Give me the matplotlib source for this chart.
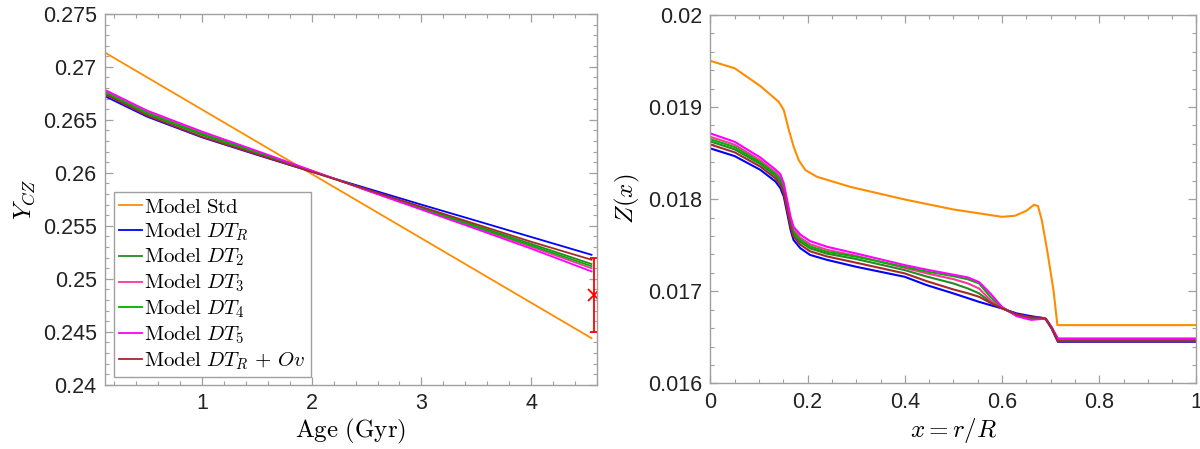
import numpy as np
import matplotlib
matplotlib.use("Agg")
import matplotlib.pyplot as plt
from matplotlib.ticker import MultipleLocator

plt.rcParams['font.family'] = ['Liberation Sans', 'DejaVu Sans']
plt.rcParams['mathtext.fontset'] = 'cm'

# ---- left panel: helium in the convective zone vs age ----
age = [0.116, 0.5, 1.0, 1.5, 2.0, 2.5, 3.0, 3.5, 4.0, 4.55]
age_std = [0.116, 4.55]
y_std = [0.27135, 0.24440]
y_dtr = [0.26723, 0.26530, 0.26335, 0.26170, 0.26010, 0.25855, 0.25700, 0.25548, 0.25395, 0.25227]
y_dt2 = [0.26750, 0.26555, 0.26358, 0.26188, 0.26015, 0.25842, 0.25670, 0.25500, 0.25330, 0.25140]
y_dt3 = [0.26770, 0.26575, 0.26378, 0.26200, 0.26020, 0.25838, 0.25660, 0.25482, 0.25303, 0.25100]
y_dt4 = [0.26760, 0.26565, 0.26368, 0.26195, 0.26018, 0.25840, 0.25665, 0.25490, 0.25315, 0.25120]
y_dt5 = [0.26783, 0.26588, 0.26390, 0.26208, 0.26022, 0.25835, 0.25653, 0.25470, 0.25285, 0.25070]
y_ov = [0.26740, 0.26540, 0.26340, 0.26175, 0.26010, 0.25845, 0.25680, 0.25515, 0.25350, 0.25180]

sun_age = 4.57
sun_y = 0.2485
sun_err = 0.0035

# ---- right panel: metallicity profile ----
x_std = [0.0, 0.05, 0.103, 0.1406, 0.151, 0.1615, 0.1714, 0.1817, 0.1955, 0.2195, 0.288,
         0.4, 0.5, 0.6, 0.627, 0.65, 0.666, 0.674, 0.682, 0.694, 0.706, 0.714, 1.0]
z_std = [0.01950, 0.019420, 0.019226, 0.019056, 0.018966, 0.018749, 0.018568, 0.018423,
         0.018315, 0.018242, 0.018133, 0.017996, 0.017888, 0.017808, 0.01782, 0.017873,
         0.017939, 0.017925, 0.01777, 0.01741, 0.01701, 0.016633, 0.016633]

xr = [0.0, 0.05, 0.103, 0.134, 0.144, 0.151, 0.158, 0.165, 0.171, 0.185, 0.205, 0.24, 0.3,
      0.4, 0.445, 0.5, 0.53, 0.553, 0.576, 0.6, 0.63, 0.66, 0.682, 0.69, 0.702, 0.715, 1.0]
z_dtr = [0.01855, 0.018467, 0.018317, 0.018191, 0.018119, 0.018028, 0.017847, 0.017666,
         0.017558, 0.017468, 0.017395, 0.017341, 0.017266, 0.017157, 0.017067, 0.016977,
         0.016925, 0.016885, 0.01685, 0.016814, 0.01676, 0.01673, 0.016712, 0.016694,
         0.016597, 0.016452, 0.016452]
z_dt2 = [0.018626, 0.018540, 0.018380, 0.018252, 0.018190, 0.018095, 0.017914, 0.017733,
         0.017625, 0.017537, 0.017466, 0.017408, 0.017350, 0.017230, 0.017160, 0.017085,
         0.017030, 0.016977, 0.016886, 0.016818, 0.016745, 0.016712, 0.016710, 0.016702,
         0.016605, 0.016465, 0.016465]
z_dt3 = [0.018676, 0.018590, 0.018420, 0.018290, 0.018235, 0.018138, 0.017957, 0.017775,
         0.017667, 0.017581, 0.017511, 0.017450, 0.017385, 0.017254, 0.017195, 0.017132,
         0.017085, 0.017030, 0.016904, 0.016820, 0.016740, 0.016705, 0.016705, 0.016700,
         0.016610, 0.016480, 0.016480]
z_dt4 = [0.018650, 0.018565, 0.018399, 0.018270, 0.018211, 0.018115, 0.017934, 0.017753,
         0.017645, 0.017558, 0.017487, 0.017428, 0.017375, 0.017265, 0.017215, 0.017164,
         0.017130, 0.017085, 0.016940, 0.016825, 0.016740, 0.016708, 0.016708, 0.016702,
         0.016608, 0.016472, 0.016472]
z_dt5 = [0.018713, 0.018622, 0.018451, 0.018320, 0.018270, 0.018171, 0.017990, 0.017808,
         0.017700, 0.017615, 0.017545, 0.017483, 0.017410, 0.017284, 0.017235, 0.017180,
         0.017150, 0.017100, 0.016977, 0.016830, 0.016730, 0.016690, 0.016700, 0.016700,
         0.016610, 0.016488, 0.016488]
z_ov = [0.018593, 0.018508, 0.018352, 0.018225, 0.018158, 0.018065, 0.017884, 0.017703,
        0.017595, 0.017506, 0.017434, 0.017378, 0.017310, 0.017194, 0.017110, 0.017020,
        0.016978, 0.016940, 0.016875, 0.016815, 0.016750, 0.016718, 0.016712, 0.016705,
        0.016602, 0.016458, 0.016458]

labels = [r'$\mathrm{Model\ Std}$', r'$\mathrm{Model}\ DT_R$', r'$\mathrm{Model}\ DT_2$',
          r'$\mathrm{Model}\ DT_3$', r'$\mathrm{Model}\ DT_4$', r'$\mathrm{Model}\ DT_5$',
          r'$\mathrm{Model}\ DT_R\,+\,Ov$']
colors = ['#FF8C00', '#0000FF', '#228B22', '#FF3399', '#00B000', '#FF00FF', '#A52A2A']

fig = plt.figure(figsize=(12, 4.49), dpi=100)
ax1 = fig.add_axes([0.0875, 0.143, 0.410, 0.826])
ax2 = fig.add_axes([0.592, 0.146, 0.405, 0.821])

left_y = [y_dtr, y_dt2, y_dt3, y_dt4, y_dt5, y_ov]
ax1.plot(age_std, y_std, color=colors[0], lw=1.3, label=labels[0])
for k in range(6):
    ax1.plot(age, left_y[k], color=colors[k + 1], lw=1.3, label=labels[k + 1])
ax1.errorbar([sun_age], [sun_y], yerr=[sun_err], color='#FF0000', marker='x', ms=8,
             mew=1.3, lw=1.3, capsize=3, capthick=1.3)

right_z = [z_dtr, z_dt2, z_dt3, z_dt4, z_dt5, z_ov]
ax2.plot(x_std, z_std, color=colors[0], lw=1.5)
for k in range(6):
    ax2.plot(xr, right_z[k], color=colors[k + 1], lw=1.5)

ax1.set_xlim(0.116, 4.6)
ax1.set_ylim(0.24, 0.275)
ax1.xaxis.set_major_locator(MultipleLocator(1))
ax1.xaxis.set_minor_locator(MultipleLocator(0.2))
ax1.yaxis.set_minor_locator(MultipleLocator(0.001))
ax1.set_yticks([0.24, 0.245, 0.25, 0.255, 0.26, 0.265, 0.27, 0.275])
ax1.set_yticklabels(['0.24', '0.245', '0.25', '0.255', '0.26', '0.265', '0.27', '0.275'])
ax1.set_xlabel(r'$\mathrm{Age\ (Gyr)}$', fontsize=18, labelpad=2)
ax1.set_ylabel(r'$Y_{CZ}$', fontsize=18, labelpad=4)

ax2.set_xlim(0, 1)
ax2.set_ylim(0.016, 0.02)
ax2.xaxis.set_minor_locator(MultipleLocator(0.05))
ax2.yaxis.set_minor_locator(MultipleLocator(0.0002))
ax2.set_xticks([0, 0.2, 0.4, 0.6, 0.8, 1.0])
ax2.set_xticklabels(['0', '0.2', '0.4', '0.6', '0.8', '1'])
ax2.set_yticks([0.016, 0.017, 0.018, 0.019, 0.02])
ax2.set_yticklabels(['0.016', '0.017', '0.018', '0.019', '0.02'])
ax2.set_xlabel(r'$x=r/R$', fontsize=18, labelpad=2)
ax2.set_ylabel(r'$Z(x)$', fontsize=18, labelpad=4)

for ax in (ax1, ax2):
    for s in ax.spines.values():
        s.set_color('#A0A0A0')
        s.set_linewidth(1.0)
    ax.tick_params(which='both', direction='in', top=True, right=True,
                   color='#A0A0A0', labelsize=15.5, labelcolor='#222222')
    ax.tick_params(which='major', length=6, width=0.9, pad=6)
    ax.tick_params(which='minor', length=3, width=0.8)

leg = ax1.legend(loc='lower left', bbox_to_anchor=(0.018, 0.02), fontsize=15,
                 handlelength=1.1, handletextpad=0.12, labelspacing=0.21,
                 borderpad=0.25, borderaxespad=0.0, fancybox=False, framealpha=1)
leg.get_frame().set_edgecolor('#A0A0A0')
leg.get_frame().set_linewidth(1.0)

fig.savefig('out.png', dpi=100)
